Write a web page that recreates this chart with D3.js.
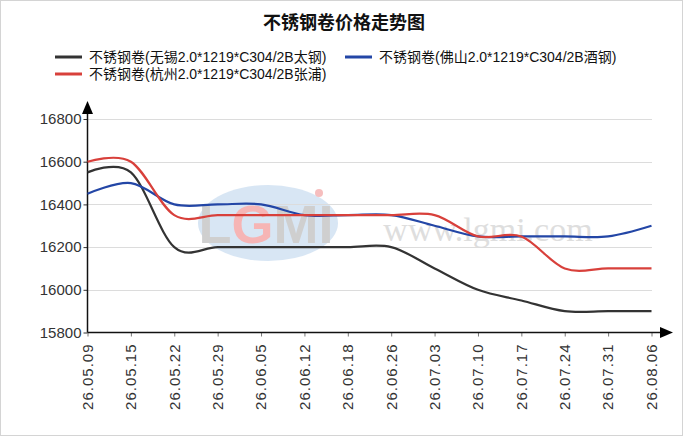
<!DOCTYPE html>
<html>
<head>
<meta charset="utf-8">
<script src="https://cdn.jsdelivr.net/npm/d3@7"></script>
<style>
  body { margin: 0; background: #fff; }
  svg { display: block; font-family: "Liberation Sans", Arial, "Noto Sans CJK SC", sans-serif; }
</style>
</head>
<body>
<div id="container"></div>
<script>
const dates = ["26.05.09", "26.05.15", "26.05.22", "26.05.29", "26.06.05", "26.06.12", "26.06.18",
  "26.06.26", "26.07.03", "26.07.10", "26.07.17", "26.07.24", "26.07.31", "26.08.06"];
const wuxi = [16550, 16550, 16200, 16200, 16200, 16200, 16200, 16200, 16100, 16000, 15950, 15900, 15900, 15900];
const foshan = [16450, 16500, 16400, 16400, 16400, 16350, 16350, 16350, 16300, 16250, 16250, 16250, 16250, 16300];
const hangzhou = [16600, 16600, 16350, 16350, 16350, 16350, 16350, 16350, 16350, 16250, 16250, 16100, 16100, 16100];
const yTicks = [15800, 16000, 16200, 16400, 16600, 16800];
const seriesNames = [
  "不锈钢卷(无锡2.0*1219*C304/2B太钢)",
  "不锈钢卷(佛山2.0*1219*C304/2B酒钢)",
  "不锈钢卷(杭州2.0*1219*C304/2B张浦)"
];
const title = "不锈钢卷价格走势图";

const width = 688, height = 438;
const colors = ["#333333", "#2346a6", "#d8403b"];
const series = [wuxi, foshan, hangzhou];

const svg = d3.select("#container").append("svg")
  .attr("width", width)
  .attr("height", height);

// frame
svg.append("rect")
  .attr("x", 0.5).attr("y", 0.5)
  .attr("width", 682).attr("height", 435)
  .attr("fill", "#fff")
  .attr("stroke", "#d4d4d4");

// scales
let x = d3.scalePoint().domain(dates).range([87.5, 651.5]);
let y = d3.scaleLinear().domain([15800, 16800]).range([332.5, 119]);

// watermark
let wm = svg.append("g").attr("opacity", 0.55);
wm.append("ellipse")
  .attr("cx", 268).attr("cy", 223)
  .attr("rx", 70).attr("ry", 38)
  .attr("fill", "#b9d2ec");
let logo = wm.append("text")
  .attr("x", 266).attr("y", 243)
  .attr("text-anchor", "middle")
  .attr("font-size", 54).attr("font-weight", "bold")
  .attr("font-family", "Liberation Sans, Arial")
  .attr("fill", "#a9a9a9");
logo.append("tspan").text("L");
logo.append("tspan").attr("fill", "#f07a7a").text("G");
logo.append("tspan").text("MI");
wm.append("circle")
  .attr("cx", 319).attr("cy", 193).attr("r", 4)
  .attr("fill", "#f08a8a");
wm.append("text")
  .attr("x", 488).attr("y", 241)
  .attr("text-anchor", "middle")
  .attr("font-size", 34)
  .attr("font-family", "Liberation Serif, serif")
  .attr("fill", "#c4c4c4")
  .text("www.lgmi.com");

// grid
svg.append("g")
  .selectAll("line")
  .data(yTicks.slice(1))
  .enter()
  .append("line")
  .attr("x1", 87.5).attr("x2", 652)
  .attr("y1", d => Math.round(y(d)) + 0.5)
  .attr("y2", d => Math.round(y(d)) + 0.5)
  .attr("stroke", "#dcdcdc");

// y axis
let yAxis = d3.axisLeft(y).tickValues(yTicks).tickSize(4).tickPadding(2).tickFormat(d => d);
let gy = svg.append("g").attr("transform", "translate(87.5,0)").call(yAxis);
gy.select(".domain").remove();
gy.selectAll("text").attr("font-size", 15).attr("fill", "#333");
gy.selectAll("line").attr("stroke", "#333");

// x axis
let xAxis = d3.axisBottom(x).tickSize(4).tickPadding(0);
let gx = svg.append("g").attr("transform", "translate(0,332.5)").call(xAxis);
gx.select(".domain").remove();
gx.selectAll("line").attr("stroke", "#777");
gx.selectAll("text")
  .attr("font-size", 15)
  .attr("fill", "#333")
  .attr("letter-spacing", 1)
  .attr("text-anchor", "end")
  .attr("x", -11)
  .attr("y", 0)
  .attr("dy", "0.32em")
  .attr("transform", "rotate(-90)");

// axis lines with arrows
svg.append("line")
  .attr("x1", 87.5).attr("x2", 87.5)
  .attr("y1", 112).attr("y2", 332.5)
  .attr("stroke", "#111").attr("stroke-width", 1.5);
svg.append("path")
  .attr("d", "M87.5,101 L82,114 L93,114 Z")
  .attr("fill", "#000");
svg.append("line")
  .attr("x1", 87.5).attr("x2", 662)
  .attr("y1", 332.5).attr("y2", 332.5)
  .attr("stroke", "#111").attr("stroke-width", 1.5);
svg.append("path")
  .attr("d", "M673,332.5 L660,327 L660,338 Z")
  .attr("fill", "#000");

// lines
let line = d3.line()
  .x((d, i) => x(dates[i]))
  .y(d => y(d))
  .curve(d3.curveCardinal.tension(0));

svg.append("g")
  .selectAll("path")
  .data(series)
  .enter()
  .append("path")
  .attr("d", d => line(d))
  .attr("fill", "none")
  .attr("stroke", (d, i) => colors[i])
  .attr("stroke-width", 2.2);

// title
svg.append("text")
  .attr("x", 344).attr("y", 29)
  .attr("text-anchor", "middle")
  .attr("font-size", 18)
  .attr("font-weight", "bold")
  .attr("font-family", "Noto Sans CJK SC, sans-serif")
  .attr("fill", "#111")
  .text(title);

// legend
let legendPos = [[55, 57], [345, 57], [55, 74]];
let legend = svg.append("g")
  .selectAll("g")
  .data(seriesNames)
  .enter()
  .append("g")
  .attr("transform", (d, i) => "translate(" + legendPos[i][0] + "," + legendPos[i][1] + ")");
legend.append("line")
  .attr("x1", 0).attr("x2", 27)
  .attr("stroke", (d, i) => colors[i])
  .attr("stroke-width", 3);
legend.append("text")
  .attr("x", 34)
  .attr("dy", "0.35em")
  .attr("font-size", 14)
  .attr("fill", "#111")
  .text(d => d);
</script>
</body>
</html>
